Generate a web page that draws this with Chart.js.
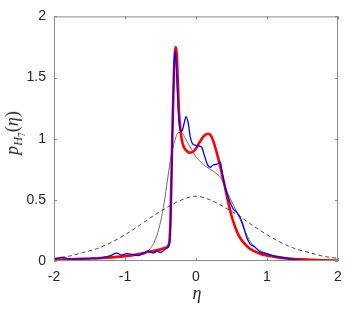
<!DOCTYPE html>
<html>
<head>
<meta charset="utf-8">
<script src="https://cdn.jsdelivr.net/npm/chart.js@4"></script>
<style>
    html, body { margin: 0; padding: 0; background: #fff; }
    #wrap { position: relative; width: 354px; height: 313px; }
    #wrap canvas { position: absolute; left: 0; top: 0; }
    .lab { position: absolute; font-family: "Liberation Serif", "DejaVu Serif", serif; color: #262626; white-space: nowrap; line-height: 1; }
    #ylab { left: 15px; top: 133px; font-size: 18px; transform: translate(-50%, -50%) rotate(-90deg); }
    #ylab sub { font-size: 70%; vertical-align: -0.3em; }
    #ylab sub sub { font-size: 75%; }
    #xlab { left: 197px; top: 293px; font-size: 18px; transform: translate(-50%, -50%); }
</style>
</head>
<body>
<div id="wrap">
    <canvas id="pdfChart" width="354" height="313"></canvas>
    <div class="lab" id="ylab"><i>p</i><sub><i>H</i><sub>7</sub></sub>(<i>η</i>)</div>
    <div class="lab" id="xlab"><i>η</i></div>
</div>
<script>
// tick positions
const xTicks = [-2, -1, 0, 1, 2];
const yTicks = [0, 0.5, 1, 1.5, 2];

// thick red curve
const redX = [-2.0, -1.8, -1.6, -1.4, -1.2, -1.0, -0.8, -0.67, -0.5, -0.42, -0.38, -0.36, -0.34, -0.32, -0.30, -0.285, -0.27, -0.255, -0.24, -0.22, -0.20, -0.17, -0.13, -0.085, -0.04, 0.0, 0.05, 0.10, 0.14, 0.17, 0.21, 0.25, 0.29, 0.33, 0.37, 0.41, 0.45, 0.50, 0.55, 0.60, 0.67, 0.75, 0.82, 0.90, 1.0, 1.1, 1.2, 1.4, 1.6, 1.8, 2.0];
const redY = [0.010, 0.013, 0.017, 0.022, 0.030, 0.040, 0.058, 0.075, 0.095, 0.110, 0.14, 0.32, 0.85, 1.35, 1.68, 1.75, 1.68, 1.45, 1.22, 1.08, 0.99, 0.93, 0.90, 0.885, 0.895, 0.92, 0.97, 1.015, 1.035, 1.04, 1.025, 0.97, 0.89, 0.80, 0.70, 0.60, 0.49, 0.37, 0.28, 0.21, 0.15, 0.105, 0.08, 0.06, 0.045, 0.035, 0.025, 0.015, 0.010, 0.006, 0.004];

// blue curve
const blueX = [-2.0, -1.95, -1.9, -1.85, -1.8, -1.7, -1.6, -1.5, -1.4, -1.3, -1.2, -1.12, -1.05, -0.98, -0.9, -0.82, -0.75, -0.67, -0.6, -0.55, -0.5, -0.45, -0.40, -0.37, -0.35, -0.33, -0.31, -0.295, -0.28, -0.26, -0.24, -0.22, -0.20, -0.17, -0.14, -0.11, -0.08, -0.05, 0.0, 0.04, 0.08, 0.12, 0.16, 0.20, 0.24, 0.28, 0.31, 0.34, 0.37, 0.41, 0.45, 0.48, 0.525, 0.57, 0.62, 0.67, 0.71, 0.76, 0.83, 0.90, 1.0, 1.1, 1.2, 1.3, 1.4, 1.5, 1.7, 2.0];
const blueY = [0.015, 0.022, 0.030, 0.028, 0.018, 0.015, 0.018, 0.022, 0.020, 0.030, 0.045, 0.065, 0.050, 0.060, 0.055, 0.045, 0.060, 0.080, 0.065, 0.080, 0.070, 0.090, 0.11, 0.16, 0.50, 1.10, 1.58, 1.72, 1.62, 1.36, 1.15, 1.07, 1.06, 1.12, 1.18, 1.13, 1.01, 0.96, 0.945, 0.94, 0.93, 0.86, 0.79, 0.765, 0.785, 0.79, 0.795, 0.81, 0.72, 0.60, 0.53, 0.48, 0.425, 0.40, 0.36, 0.28, 0.20, 0.14, 0.115, 0.075, 0.060, 0.040, 0.030, 0.020, 0.010, 0.005, 0.003, 0.003];

// thin gray curve
const grayX = [-2.0, -1.5, -1.0, -0.8, -0.7, -0.65, -0.6, -0.55, -0.5, -0.45, -0.4, -0.35, -0.3, -0.25, -0.2, -0.15, -0.1, -0.05, 0.0, 0.05, 0.1, 0.2, 0.3, 0.35, 0.4, 0.45, 0.5, 0.55, 0.6, 0.65, 0.7, 0.8, 0.9, 1.0, 1.2, 1.4, 1.6, 2.0];
const grayY = [0.010, 0.020, 0.035, 0.050, 0.065, 0.10, 0.14, 0.21, 0.32, 0.47, 0.67, 0.86, 0.98, 1.05, 1.05, 1.00, 0.95, 0.90, 0.85, 0.82, 0.79, 0.75, 0.71, 0.68, 0.62, 0.55, 0.49, 0.43, 0.37, 0.30, 0.23, 0.13, 0.085, 0.060, 0.035, 0.020, 0.012, 0.005];

// dashed reference curve
const gaussX = [-2.0, -1.8, -1.6, -1.4, -1.2, -1.0, -0.8, -0.6, -0.4, -0.2, 0.0, 0.2, 0.4, 0.6, 0.8, 1.0, 1.2, 1.4, 1.6, 1.8, 2.0];
const gaussY = [0.022, 0.038, 0.068, 0.10, 0.15, 0.215, 0.29, 0.37, 0.44, 0.50, 0.53, 0.50, 0.44, 0.37, 0.29, 0.215, 0.15, 0.10, 0.068, 0.038, 0.022];

function pts(xs, ys) {
    return xs.map((x, i) => ({ x: x, y: ys[i] }));
}

// box + inward ticks, like the original axes
const boxPlugin = {
    id: 'box',
    afterDraw(chart) {
        const ctx = chart.ctx;
        const a = chart.chartArea;
        const xs = chart.scales.x, ys = chart.scales.y;
        ctx.save();
        ctx.strokeStyle = '#8a8a8a';
        ctx.lineWidth = 1;
        ctx.strokeRect(a.left + 0.5, a.top + 0.5, a.right - a.left - 1, a.bottom - a.top - 1);
        ctx.beginPath();
        xTicks.forEach(v => {
            const px = Math.round(xs.getPixelForValue(v)) + 0.5;
            ctx.moveTo(px, a.bottom); ctx.lineTo(px, a.bottom - 3);
            ctx.moveTo(px, a.top); ctx.lineTo(px, a.top + 3);
        });
        yTicks.forEach(v => {
            const py = Math.round(ys.getPixelForValue(v)) + 0.5;
            ctx.moveTo(a.left, py); ctx.lineTo(a.left + 3, py);
            ctx.moveTo(a.right, py); ctx.lineTo(a.right - 3, py);
        });
        ctx.stroke();
        ctx.restore();
    }
};

const tickFont = { family: 'Liberation Sans, Arial, sans-serif', size: 14 };

new Chart(document.getElementById('pdfChart'), {
    type: 'line',
    data: {
        datasets: [
            { data: pts(blueX, blueY), borderColor: '#0000ff', borderWidth: 1.3, order: 1 },
            { data: pts(redX, redY), borderColor: '#ff0000', borderWidth: 2.6, order: 2 },
            { data: pts(grayX, grayY), borderColor: '#5a5a5a', borderWidth: 0.9, order: 3 },
            { data: pts(gaussX, gaussY), borderColor: '#333333', borderWidth: 0.9, borderDash: [4, 3], order: 4 }
        ]
    },
    options: {
        responsive: false,
        animation: false,
        devicePixelRatio: 1,
        layout: { padding: { left: 0, right: 16, top: 13, bottom: 0 } },
        elements: {
            point: { radius: 0 },
            line: { cubicInterpolationMode: 'monotone', fill: false }
        },
        plugins: { legend: { display: false }, tooltip: { enabled: false } },
        scales: {
            x: {
                type: 'linear', min: -2, max: 2,
                afterBuildTicks: s => { s.ticks = xTicks.map(v => ({ value: v })); },
                afterFit: s => { s.height = 52; },
                grid: { display: false, drawTicks: false },
                border: { display: false },
                ticks: { color: '#262626', font: tickFont, padding: 8, maxRotation: 0, callback: v => String(v) }
            },
            y: {
                type: 'linear', min: 0, max: 2,
                afterBuildTicks: s => { s.ticks = yTicks.map(v => ({ value: v })); },
                afterFit: s => { s.width = 54; },
                grid: { display: false, drawTicks: false },
                border: { display: false },
                ticks: { color: '#262626', font: tickFont, padding: 8, callback: v => String(v) }
            }
        }
    },
    plugins: [boxPlugin]
});
</script>
</body>
</html>
